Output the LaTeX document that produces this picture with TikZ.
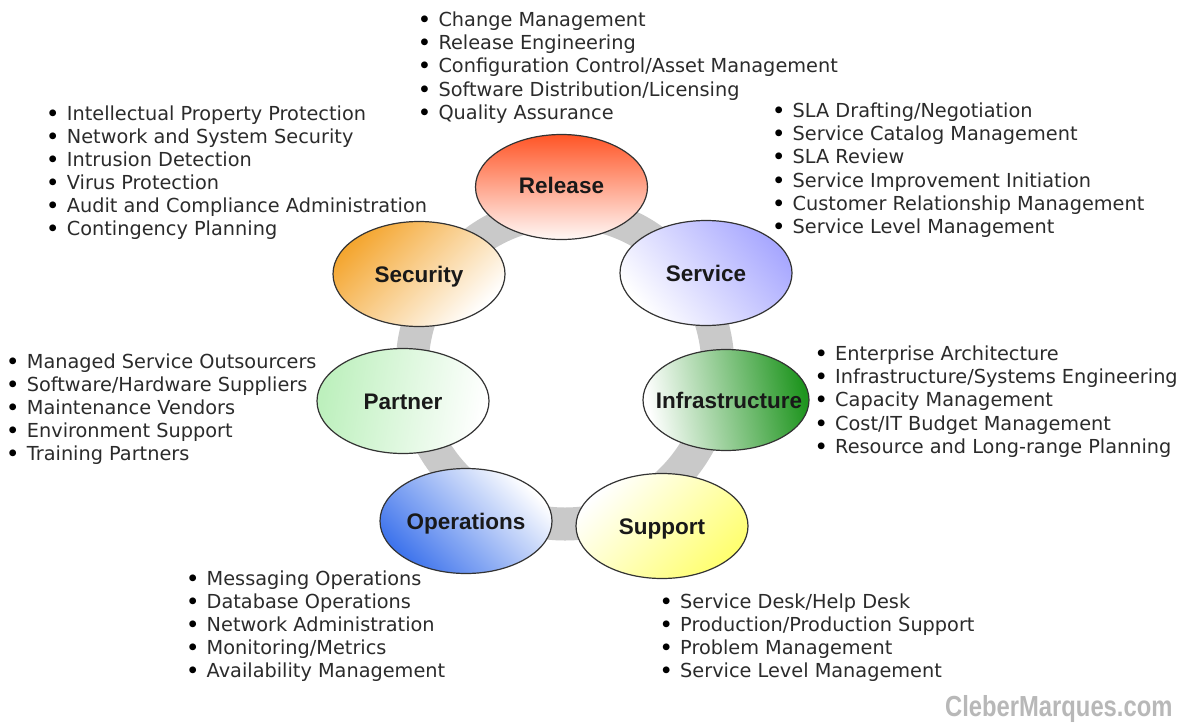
\documentclass[tikz,border=0pt]{standalone}
\usepackage{fontspec}
\setmainfont{DejaVu Sans}
\newfontfamily\lblfont{Liberation Sans}
\usetikzlibrary{shapes.geometric}
\definecolor{txt}{HTML}{2B2B2B}
\definecolor{band}{HTML}{C9C9C9}
\definecolor{relc}{HTML}{FF5526}
\definecolor{svcc}{HTML}{A8A8FF}
\definecolor{infc}{HTML}{1F951F}
\definecolor{supc}{HTML}{FFFF70}
\definecolor{opsc}{HTML}{3F74EC}
\definecolor{parc}{HTML}{BDF0BD}
\definecolor{secc}{HTML}{F4A630}
\definecolor{wm}{HTML}{B8B8B8}
\tikzset{
  area/.style={ellipse, draw=black!80, line width=1.2pt, minimum width=172pt, minimum height=105pt, inner sep=0pt},
  lbl/.style={font=\lblfont\bfseries\fontsize{22.5}{24}\selectfont, text=black!90, inner sep=0pt, text height=16pt, text depth=0pt},
  item/.style={anchor=base west, inner sep=0pt, font=\fontsize{19.3}{23}\selectfont, text=txt, text height=14pt, text depth=4pt},
  ring/.style={draw=band, line width=33pt},
}
\newcommand\blist[4]{%
  \foreach \t [count=\i] in {#4} {%
    \node[item] (#1-\i) at (#2, {#3+(\i-1)*23.1}) {\llap{\makebox[28pt]{\color{black}\bfseries\textbullet}}\t};
  }%
}
\begin{document}
\begin{tikzpicture}[x=1pt,y=-1pt]
\useasboundingbox[fill=white] (0,0) rectangle (1190,726);
% centres
\coordinate (c-rel) at (561.5,187);
\coordinate (c-svc) at (706,273);
\coordinate (c-inf) at (726,400);
\coordinate (c-sup) at (662,526);
\coordinate (c-ops) at (466,521);
\coordinate (c-par) at (403,401);
\coordinate (c-sec) at (419,274);
\coordinate (ring-c) at (565,368);
% ring band
\draw[ring] (ring-c) ellipse [x radius=153, y radius=156];
% areas
\node[area, top color=relc, bottom color=relc!4] (rel) at (c-rel) {};
\node[area, top color=svcc, bottom color=white, shading angle=-50] (svc) at (c-svc) {};
\node[area, minimum width=166pt, minimum height=101pt, top color=infc, bottom color=white, shading angle=-80] (inf) at (c-inf) {};
\node[area, top color=supc, bottom color=white, shading angle=-135] (sup) at (c-sup) {};
\node[area, top color=opsc, bottom color=white, shading angle=135] (ops) at (c-ops) {};
\node[area, top color=parc, bottom color=white, shading angle=80] (par) at (c-par) {};
\node[area, top color=secc, bottom color=white, shading angle=45] (sec) at (c-sec) {};
% labels
\node[lbl] (rel-t) at ([yshift=2pt]rel.center) {Release};
\node[lbl] (svc-t) at (svc.center) {Service};
\node[lbl] (inf-t) at ([xshift=3pt]inf.center) {Infrastructure};
\node[lbl] (sup-t) at (sup.center) {Support};
\node[lbl] (ops-t) at (ops.center) {Operations};
\node[lbl] (par-t) at (par.center) {Partner};
\node[lbl] (sec-t) at (sec.center) {Security};
% lists
\blist{lr}{438.3}{26.7}{Change Management,Release Engineering,Configuration Control/Asset Management,Software Distribution/Licensing,Quality Assurance}
\blist{ls}{66.7}{120}{Intellectual Property Protection,Network and System Security,Intrusion Detection,Virus Protection,Audit and Compliance Administration,Contingency Planning}
\blist{lv}{792.5}{117.7}{SLA Drafting/Negotiation,Service Catalog Management,SLA Review,Service Improvement Initiation,Customer Relationship Management,Service Level Management}
\blist{lp}{26.7}{368.3}{Managed Service Outsourcers,Software/Hardware Suppliers,Maintenance Vendors,Environment Support,Training Partners}
\blist{li}{835}{360.7}{Enterprise Architecture,Infrastructure/Systems Engineering,Capacity Management,Cost/IT Budget Management,Resource and Long-range Planning}
\blist{lo}{206.5}{585}{Messaging Operations,Database Operations,Network Administration,Monitoring/Metrics,Availability Management}
\blist{lu}{680}{608.3}{Service Desk/Help Desk,Production/Production Support,Problem Management,Service Level Management}
% watermark
\node[anchor=base west, inner sep=0pt, text=wm, font=\lblfont\bfseries\fontsize{29}{30}\selectfont, xscale=0.82] (wmark) at (945,716) {CleberMarques.com};
\end{tikzpicture}
\end{document}
